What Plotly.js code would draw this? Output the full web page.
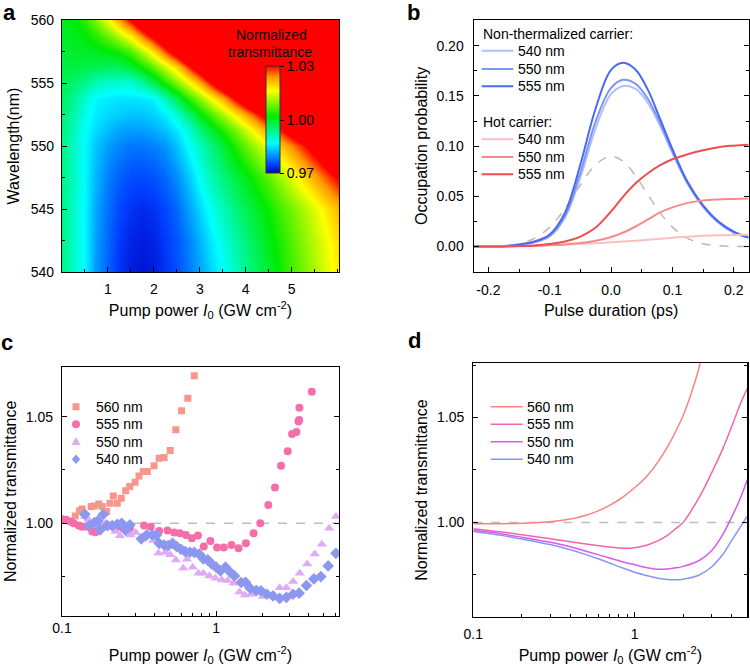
<!DOCTYPE html>
<html>
<head>
<meta charset="utf-8">
<script src="https://cdn.plot.ly/plotly-3.0.1.min.js"></script>
<style>html,body{margin:0;padding:0;background:#fff}#chart{width:750px;height:666px}</style>
</head>
<body>
<div id="chart"></div>
<script>
const aPower = [0, 0.25, 0.5, 0.75, 1, 1.25, 1.5, 1.75, 2, 2.25, 2.5, 2.75, 3, 3.25, 3.5, 3.75, 4, 4.5, 5, 5.5, 6];
const aWavelength = [540, 542.5, 545, 547.5, 550, 551.25, 552.5, 553.75, 555, 556.25, 557.5, 558.75, 560];
const aT540    = [0.994, 0.990, 0.9863, 0.980, 0.9765, 0.9735, 0.972, 0.9715, 0.972, 0.9735, 0.9755, 0.978, 0.981, 0.984, 0.987, 0.990, 0.9935, 0.9995, 1.0055, 1.0115, 1.0175];
const aT542_5  = [0.994, 0.990, 0.9863, 0.9805, 0.977, 0.974, 0.9725, 0.972, 0.9725, 0.974, 0.976, 0.9785, 0.982, 0.9855, 0.9885, 0.9915, 0.9945, 1.0005, 1.0065, 1.0125, 1.0185];
const aT545    = [0.994, 0.990, 0.9863, 0.981, 0.9775, 0.975, 0.9735, 0.973, 0.9735, 0.975, 0.977, 0.9805, 0.9843, 0.9878, 0.991, 0.994, 0.997, 1.0025, 1.0085, 1.0145, 1.0215];
const aT547_5  = [0.994, 0.9905, 0.9865, 0.982, 0.9785, 0.9765, 0.9752, 0.975, 0.9755, 0.977, 0.9795, 0.983, 0.9875, 0.991, 0.9945, 0.9975, 1.0005, 1.007, 1.0145, 1.0225, 1.0305];
const aT550    = [0.994, 0.9905, 0.9866, 0.983, 0.9805, 0.979, 0.978, 0.978, 0.9787, 0.980, 0.983, 0.9868, 0.9905, 0.9945, 0.9985, 1.003, 1.0075, 1.016, 1.0245, 1.0335, 1.0425];
const aT551_25 = [0.9945, 0.991, 0.9868, 0.9845, 0.9825, 0.981, 0.9805, 0.9805, 0.9815, 0.983, 0.9855, 0.989, 0.9945, 0.999, 1.0035, 1.008, 1.0135, 1.024, 1.0345, 1.045, 1.0555];
const aT552_5  = [0.995, 0.992, 0.988, 0.9855, 0.9843, 0.9835, 0.983, 0.983, 0.9838, 0.9855, 0.9895, 0.9945, 1.0008, 1.0055, 1.011, 1.0165, 1.0225, 1.0345, 1.0465, 1.0585, 1.0705];
const aT553_75 = [0.996, 0.9935, 0.9895, 0.9862, 0.9855, 0.985, 0.985, 0.9852, 0.9862, 0.9905, 0.997, 1.0035, 1.0095, 1.0155, 1.022, 1.0295, 1.037, 1.051, 1.065, 1.079, 1.093];
const aT555    = [0.997, 0.9955, 0.9935, 0.991, 0.9898, 0.9892, 0.9893, 0.992, 0.997, 1.003, 1.009, 1.015, 1.022, 1.030, 1.038, 1.046, 1.054, 1.070, 1.086, 1.102, 1.118];
const aT556_25 = [0.998, 0.998, 0.9975, 0.997, 0.9965, 0.9965, 0.9985, 1.0025, 1.0075, 1.013, 1.0195, 1.028, 1.036, 1.044, 1.052, 1.060, 1.068, 1.084, 1.100, 1.116, 1.132];
const aT557_5  = [0.999, 0.9992, 0.9995, 1.000, 1.001, 1.0025, 1.006, 1.0115, 1.0185, 1.0265, 1.035, 1.0435, 1.052, 1.0605, 1.069, 1.0775, 1.086, 1.103, 1.120, 1.137, 1.154];
const aT558_75 = [0.9995, 1.000, 1.0015, 1.004, 1.0075, 1.012, 1.0175, 1.025, 1.0325, 1.040, 1.0475, 1.055, 1.0625, 1.070, 1.0775, 1.085, 1.0925, 1.1075, 1.1225, 1.1375, 1.1525];
const aT560    = [1.000, 1.0015, 1.004, 1.009, 1.0155, 1.023, 1.031, 1.039, 1.047, 1.055, 1.063, 1.071, 1.079, 1.087, 1.095, 1.103, 1.111, 1.127, 1.143, 1.159, 1.175];
const aColorTicks = [0.97, 1.00, 1.03];
const aColorTickText = ['0.97', '1.00', '1.03'];

// ---------- Panel b: occupation probability ----------
const bTime = [-0.224, -0.2, -0.175, -0.15, -0.125, -0.1, -0.075, -0.05, -0.025, 0, 0.02, 0.04, 0.06, 0.08, 0.1, 0.125, 0.15, 0.175, 0.2, 0.224];
const bPulse  = [0, 0.0002, 0.0008, 0.0028, 0.0081, 0.0194, 0.0379, 0.0613, 0.0817, 0.09, 0.0846, 0.0704, 0.0517, 0.0336, 0.0194, 0.0081, 0.0028, 0.0008, 0.0002, 0];
const bNT540 = [0, 0, 0.0004, 0.0017, 0.0042, 0.010, 0.029, 0.069, 0.118, 0.152, 0.160, 0.157, 0.143, 0.120, 0.093, 0.062, 0.0395, 0.024, 0.014, 0.009];
const bNT550 = [0, 0, 0.0004, 0.0018, 0.0045, 0.011, 0.031, 0.074, 0.125, 0.158, 0.166, 0.162, 0.147, 0.123, 0.095, 0.063, 0.040, 0.024, 0.014, 0.009];
const bNT555 = [0, 0, 0.0005, 0.002, 0.005, 0.012, 0.034, 0.082, 0.138, 0.176, 0.183, 0.176, 0.156, 0.127, 0.097, 0.064, 0.041, 0.025, 0.015, 0.009];
const bHC540 = [0, 0.0002, 0.0004, 0.0007, 0.001, 0.0015, 0.002, 0.0027, 0.0034, 0.0042, 0.005, 0.0058, 0.0068, 0.0078, 0.0088, 0.0098, 0.0107, 0.0112, 0.0115, 0.0117];
const bHC550 = [0, 0, 0.0001, 0.0003, 0.0007, 0.0013, 0.0022, 0.0035, 0.0058, 0.0095, 0.014, 0.020, 0.027, 0.034, 0.039, 0.0435, 0.046, 0.047, 0.0475, 0.048];
const bHC555 = [0, 0, 0.0002, 0.0006, 0.0012, 0.0025, 0.005, 0.010, 0.019, 0.035, 0.050, 0.063, 0.073, 0.081, 0.087, 0.092, 0.096, 0.099, 0.1005, 0.1015];
const bTickVals = [-0.2, -0.1, 0, 0.1, 0.2];
const bTickText = ['-0.2', '-0.1', '0.0', '0.1', '0.2'];
const bSeriesNames = ['540 nm', '550 nm', '555 nm'];

// ---------- Panel c: measured normalized transmittance ----------
const c560x = [0.122, 0.130, 0.135, 0.1545, 0.1625, 0.1734, 0.1824, 0.1946, 0.2047, 0.2153, 0.2285, 0.2425, 0.259, 0.275, 0.298, 0.316, 0.337, 0.358, 0.396, 0.427, 0.460, 0.504, 0.548, 0.597, 0.656, 0.722];
const c560y = [1.0034, 1.0059, 1.0067, 1.0078, 1.0081, 1.009, 1.0078, 1.0055, 1.0094, 1.0128, 1.0094, 1.0117, 1.0152, 1.0172, 1.0192, 1.0222, 1.0242, 1.0242, 1.0269, 1.0305, 1.0308, 1.0341, 1.0438, 1.0528, 1.0586, 1.0691];
const c555x = [0.1, 0.1062, 0.1133, 0.119, 0.1285, 0.135, 0.1455, 0.157, 0.165, 0.175, 0.2014, 0.2153, 0.232, 0.25, 0.276, 0.341, 0.377, 0.427, 0.484, 0.535, 0.582, 0.637, 0.697, 0.763, 0.832, 0.919, 1.015, 1.122, 1.259, 1.399, 1.562, 1.752, 1.936, 2.183, 2.414, 2.642, 2.919, 3.116, 3.325, 3.428, 3.46, 3.475, 4.185];
const c555y = [1.0019, 1.0016, 1.0008, 1.0, 0.9989, 0.9984, 0.9984, 0.9961, 0.9958, 0.9977, 0.9989, 0.9984, 0.9984, 0.9977, 0.9977, 0.9989, 0.9984, 0.9964, 0.9966, 0.9956, 0.9953, 0.9945, 0.993, 0.9942, 0.9891, 0.9917, 0.9886, 0.9886, 0.9898, 0.9883, 0.9906, 0.9953, 1.0, 1.0086, 1.0167, 1.0269, 1.0338, 1.0419, 1.0428, 1.0477, 1.0484, 1.0542, 1.0617];
const c550x = [0.1406, 0.149, 0.157, 0.1734, 0.1918, 0.212, 0.2229, 0.2378, 0.259, 0.279, 0.301, 0.332, 0.392, 0.423, 0.468, 0.504, 0.548, 0.612, 0.647, 0.705, 0.768, 0.827, 0.905, 0.991, 1.090, 1.191, 1.297, 1.419, 1.538, 1.691, 2.014, 2.342, 2.588, 2.861, 3.162, 3.496, 3.9, 4.375, 4.86, 5.43, 6.0];
const c550y = [1.0031, 1.0016, 0.9997, 0.9992, 1.0, 0.9984, 0.9961, 0.9941, 0.9969, 0.9945, 0.9956, 0.9925, 0.9919, 0.9859, 0.9863, 0.9852, 0.9828, 0.9789, 0.9831, 0.9794, 0.9766, 0.9766, 0.9753, 0.9742, 0.9734, 0.9731, 0.9719, 0.9677, 0.9664, 0.9667, 0.9656, 0.9661, 0.9698, 0.9698, 0.9727, 0.9766, 0.9809, 0.9856, 0.9902, 0.9977, 1.0031];
const c540x = [0.1406, 0.1507, 0.1625, 0.171, 0.177, 0.185, 0.1965, 0.212, 0.2285, 0.244, 0.259, 0.276, 0.3275, 0.355, 0.386, 0.410, 0.427, 0.460, 0.489, 0.521, 0.554, 0.591, 0.631, 0.676, 0.722, 0.779, 0.827, 0.883, 0.937, 1.0, 1.067, 1.151, 1.24, 1.317, 1.456, 1.553, 1.666, 1.824, 1.955, 2.14, 2.342, 2.588, 2.861, 3.162, 3.46, 3.86, 4.315, 4.79, 5.34, 6.0];
const c540y = [1.0042, 0.9989, 1.0003, 1.0011, 0.9969, 1.0041, 0.9989, 0.9989, 0.9995, 1.0, 0.9966, 0.9992, 0.9927, 0.9945, 0.9945, 0.9945, 0.9906, 0.9898, 0.9895, 0.9906, 0.9891, 0.9878, 0.9867, 0.9864, 0.9863, 0.9855, 0.9833, 0.9828, 0.9809, 0.9794, 0.9777, 0.9794, 0.9769, 0.9753, 0.9722, 0.9723, 0.9695, 0.9684, 0.9683, 0.9667, 0.9659, 0.9648, 0.9652, 0.9667, 0.9672, 0.9708, 0.9739, 0.975, 0.98, 0.9859];
const cdSeriesNames = ['560 nm', '555 nm', '550 nm', '540 nm'];

// ---------- Panel d: simulated normalized transmittance ----------
const d560x = [0.1, 0.15, 0.2, 0.3, 0.4, 0.5, 0.6, 0.7, 0.8, 0.9, 1.0, 1.2, 1.4, 1.6, 1.8, 2.0, 2.2, 2.4, 2.6];
const d560y = [0.9994, 0.9994, 0.9996, 1.0003, 1.0016, 1.0034, 1.0056, 1.0081, 1.0108, 1.0136, 1.0165, 1.0223, 1.029, 1.036, 1.0435, 1.051, 1.0595, 1.0685, 1.078];
const dPower = [0.1, 0.15, 0.2, 0.3, 0.4, 0.5, 0.6, 0.7, 0.8, 0.9, 1.0, 1.2, 1.4, 1.6, 1.8, 2.0, 2.5, 3.0, 3.5, 4.0, 4.5, 5.0];
const d555y = [0.997, 0.9954, 0.9941, 0.9922, 0.9908, 0.9897, 0.9889, 0.9883, 0.9878, 0.9876, 0.9879, 0.9892, 0.9913, 0.9938, 0.997, 1.0, 1.0116, 1.0235, 1.0346, 1.0457, 1.056, 1.064];
const d550y = [0.9962, 0.9945, 0.9929, 0.9905, 0.9884, 0.9862, 0.9845, 0.983, 0.9817, 0.9806, 0.9798, 0.9784, 0.9776, 0.9778, 0.9783, 0.979, 0.9817, 0.9865, 0.9938, 1.0025, 1.011, 1.0203];
const d540y = [0.9957, 0.9938, 0.9921, 0.9894, 0.9869, 0.9846, 0.9825, 0.9806, 0.9789, 0.9775, 0.9762, 0.9745, 0.9733, 0.9727, 0.9726, 0.9729, 0.9748, 0.9787, 0.9844, 0.9913, 0.9975, 1.003];
const logTickVals = [0.1, 1];
const logTickText = ['0.1', '1'];

// ---------- styling ----------
const W = 750, H = 666;
const FONT = 'Liberation Sans, Arial, Helvetica, sans-serif';
const px = v => v / W, py = v => 1 - v / H;
const powerTitle = 'Pump power <i>I</i><sub>0</sub> (GW cm<sup>-2</sup>)';
function axisBase(extra) {
  return Object.assign({
    showline: true, linecolor: 'black', linewidth: 1.2, mirror: true,
    ticks: 'inside', ticklen: 5, tickwidth: 1, tickcolor: 'black',
    showgrid: false, zeroline: false, automargin: false,
    tickfont: {size: 14, color: 'black', family: FONT}
  }, extra);
}
function ttl(text, standoff) {
  return {text: text, font: {size: 16, color: 'black', family: FONT}, standoff: standoff};
}
const minorLin = (d) => ({dtick: d, ticks: 'inside', ticklen: 3, tickwidth: 1, tickcolor: 'black', showgrid: false});
const minorLog = {dtick: 'D1', ticks: 'inside', ticklen: 3, tickwidth: 1, tickcolor: 'black', showgrid: false};

const ntCols = ['rgb(175,192,250)', 'rgb(125,150,245)', 'rgb(75,105,240)'];
const hcCols = ['rgb(250,192,192)', 'rgb(245,140,140)', 'rgb(238,78,82)'];
const cCols = ['rgb(247,150,140)', 'rgb(245,110,170)', 'rgb(225,170,245)', 'rgb(140,152,240)'];
const dCols = ['rgb(250,130,130)', 'rgb(245,100,170)', 'rgb(215,90,235)', 'rgb(135,150,245)'];

const data = [];
// Panel a
data.push({
  type: 'heatmap', x: aPower, y: aWavelength,
  z: [aT540, aT542_5, aT545, aT547_5, aT550, aT551_25, aT552_5, aT553_75, aT555, aT556_25, aT557_5, aT558_75, aT560],
  zmin: 0.97, zmax: 1.03, zsmooth: 'best',
  colorscale: [[0, 'rgb(0,0,190)'], [0.07, 'rgb(0,60,255)'], [0.28, 'rgb(0,255,255)'], [0.53, 'rgb(0,235,0)'], [0.77, 'rgb(255,255,0)'], [0.9, 'rgb(255,150,0)'], [1, 'rgb(255,0,0)']],
  xaxis: 'x', yaxis: 'y', showlegend: false, hoverinfo: 'skip',
  colorbar: {
    x: px(265.7), xanchor: 'left', y: py(120), yanchor: 'middle',
    len: 106.7 / H, lenmode: 'fraction', thickness: 14, thicknessmode: 'pixels',
    xpad: 0, ypad: 0, outlinewidth: 1, outlinecolor: '#333', borderwidth: 0,
    tickmode: 'array', tickvals: aColorTicks, ticktext: aColorTickText,
    ticks: 'outside', ticklen: 4, tickcolor: 'black',
    tickfont: {size: 14, color: 'black', family: FONT}
  }
});
// Panel b
data.push({x: bTime, y: bPulse, type: 'scatter', mode: 'lines', line: {color: 'rgb(185,185,185)', width: 1.5, dash: 'dash', shape: 'spline'}, xaxis: 'x2', yaxis: 'y2', hoverinfo: 'skip'});
[bNT540, bNT550, bNT555].forEach((s, i) => data.push({
  x: bTime, y: s, name: 'Non-thermalized ' + bSeriesNames[i], type: 'scatter', mode: 'lines', line: {color: ntCols[i], width: 2, shape: 'spline'}, xaxis: 'x2', yaxis: 'y2'
}));
[bHC540, bHC550, bHC555].forEach((s, i) => data.push({
  x: bTime, y: s, name: 'Hot carrier ' + bSeriesNames[i], type: 'scatter', mode: 'lines', line: {color: hcCols[i], width: 2, shape: 'spline'}, xaxis: 'x2', yaxis: 'y2'
}));
// Panel c
const cSymbols = ['square', 'circle', 'triangle-up', 'diamond'];
const cSizes = [7, 8, 9, 9];
[[c560x, c560y], [c555x, c555y], [c550x, c550y], [c540x, c540y]].forEach((s, i) => data.push({
  x: s[0], y: s[1], name: cdSeriesNames[i], type: 'scatter', mode: 'markers',
  marker: {symbol: cSymbols[i], size: cSizes[i], color: cCols[i]}, xaxis: 'x3', yaxis: 'y3'
}));
// Panel d
[[d560x, d560y], [dPower, d555y], [dPower, d550y], [dPower, d540y]].forEach((s, i) => data.push({
  x: s[0], y: s[1], name: cdSeriesNames[i], type: 'scatter', mode: 'lines',
  line: {color: dCols[i], width: 1.5, shape: 'spline'}, xaxis: 'x4', yaxis: 'y4'
}));

// ---------- hand-placed legends (key samples + labels) ----------
const shapes = [
  {type: 'line', xref: 'x3 domain', x0: 0, x1: 1, yref: 'y3', y0: 1, y1: 1, line: {color: 'rgb(190,190,190)', width: 1.5, dash: 'dash'}, layer: 'below'},
  {type: 'line', xref: 'x4 domain', x0: 0, x1: 1, yref: 'y4', y0: 1, y1: 1, line: {color: 'rgb(190,190,190)', width: 1.5, dash: 'dash'}, layer: 'below'}
];
const annotations = [];
function label(text, x, y, size, anchor) {
  annotations.push({text: text, xref: 'paper', yref: 'paper', x: px(x), y: py(y), xanchor: anchor || 'left', yanchor: 'middle', showarrow: false, borderpad: 0, font: {size: size || 14, family: FONT, color: 'black'}});
}
function keyLine(x0, x1, y, color, width) {
  shapes.push({type: 'line', xref: 'paper', yref: 'paper', x0: px(x0), x1: px(x1), y0: py(y), y1: py(y), line: {color: color, width: width}});
}
// b legend
label('Non-thermalized carrier:', 481.5, 34.3);
const bRowsNT = [50.7, 69, 86.3], bRowsHC = [139.3, 157, 174.3];
bRowsNT.forEach((y, i) => { keyLine(481.7, 513.3, y, ntCols[i], 2); label(bSeriesNames[i], 517, y); });
label('Hot carrier:', 481.5, 121.7);
bRowsHC.forEach((y, i) => { keyLine(481.7, 513.3, y, hcCols[i], 2); label(bSeriesNames[i], 517, y); });
// c legend (marker keys)
const cdRows = [406.7, 424.2, 441.7, 459.2];
cdRows.forEach((y, i) => {
  const base = {xref: 'paper', yref: 'paper', xsizemode: 'pixel', ysizemode: 'pixel', xanchor: px(76), yanchor: py(y), fillcolor: cCols[i], line: {width: 0}};
  if (i === 0) shapes.push(Object.assign({type: 'rect', x0: -3.5, x1: 3.5, y0: -3.5, y1: 3.5}, base));
  if (i === 1) shapes.push(Object.assign({type: 'circle', x0: -4, x1: 4, y0: -4, y1: 4}, base));
  if (i === 2) shapes.push(Object.assign({type: 'path', path: 'M -4.5 -3.2 L 4.5 -3.2 L 0 4.6 Z'}, base));
  if (i === 3) shapes.push(Object.assign({type: 'path', path: 'M 0 -4.8 L 4.2 0 L 0 4.8 L -4.2 0 Z'}, base));
  label(cdSeriesNames[i], 95, y);
});
// d legend (line keys)
cdRows.forEach((y, i) => { keyLine(490.7, 522.7, y, dCols[i], 1.5); label(cdSeriesNames[i], 525.5, y); });
// panel letters and colorbar title
label('<b>a</b>', 2, 12, 22);
label('<b>b</b>', 406, 12.5, 22);
label('<b>c</b>', 0, 342, 22);
label('<b>d</b>', 407, 341, 22);
label('Normalized', 271.5, 35, 14, 'center');
label('transmittance', 270, 52.5, 14, 'center');

const layout = {
  width: W, height: H,
  margin: {l: 0, r: 0, t: 0, b: 0},
  paper_bgcolor: 'white', plot_bgcolor: 'white',
  font: {family: FONT, color: 'black'},
  showlegend: false,
  xaxis: axisBase({domain: [px(62), px(339)], anchor: 'y', range: [0, 6.03], tickmode: 'array', tickvals: [1, 2, 3, 4, 5], minor: minorLin(0.5), title: ttl(powerTitle, 8), ticklabelstandoff: 4}),
  yaxis: axisBase({domain: [py(272), py(20)], anchor: 'x', range: [540, 560], dtick: 5, minor: minorLin(2.5), title: ttl('Wavelength(nm)', 7), ticklabelstandoff: 4}),
  xaxis2: axisBase({domain: [px(473.7), px(748.5)], anchor: 'y2', range: [-0.224, 0.224], tickmode: 'array', tickvals: bTickVals, ticktext: bTickText, minor: minorLin(0.05), title: ttl('Pulse duration (ps)', 8), ticklabelstandoff: 5}),
  yaxis2: axisBase({domain: [py(271.7), py(20)], anchor: 'x2', range: [-0.025, 0.2256], dtick: 0.05, tickformat: '.2f', minor: minorLin(0.025), mirror: 'ticks', title: ttl('Occupation probability', 4), ticklabelstandoff: 6}),
  xaxis3: axisBase({domain: [px(62), px(339)], anchor: 'y3', type: 'log', range: [-1, 0.798], tickmode: 'array', tickvals: logTickVals, ticktext: logTickText, minor: minorLog, title: ttl(powerTitle, 19), ticklabelstandoff: -1}),
  yaxis3: axisBase({domain: [py(616), py(366.7)], anchor: 'x3', range: [0.9565, 1.0734], dtick: 0.05, tick0: 1, tickformat: '.2f', minor: minorLin(0.025), mirror: 'ticks', title: ttl('Normalized transmittance', 5), ticklabelstandoff: 5}),
  xaxis4: axisBase({domain: [px(473.3), px(747.3)], anchor: 'y4', type: 'log', range: [-1, 0.699], tickmode: 'array', tickvals: logTickVals, ticktext: logTickText, minor: minorLog, title: ttl(powerTitle, 11), ticklabelstandoff: 4}),
  yaxis4: axisBase({domain: [py(616.7), py(363.3)], anchor: 'x4', range: [0.955, 1.0759], dtick: 0.05, tick0: 1, tickformat: '.2f', minor: minorLin(0.025), mirror: 'ticks', title: ttl('Normalized transmittance', 5), ticklabelstandoff: 5}),
  shapes: shapes,
  annotations: annotations
};
Plotly.newPlot('chart', data, layout, {displayModeBar: false, staticPlot: true});
</script>
</body>
</html>
